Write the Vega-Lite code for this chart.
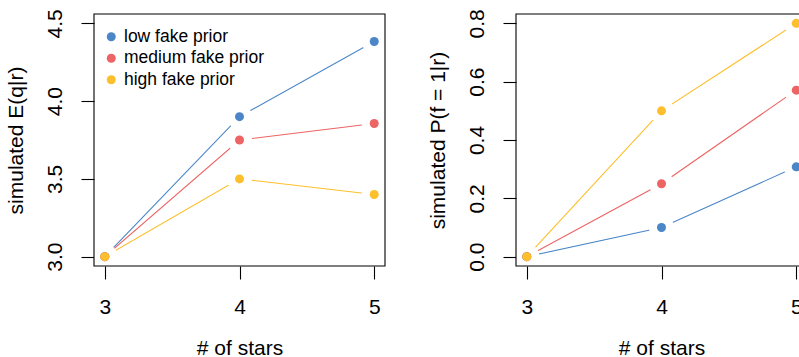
{
  "$schema": "https://vega.github.io/schema/vega-lite/v6.json",
  "padding": {"left": 5, "top": 8, "right": 0, "bottom": 0},
  "background": "white",
  "spacing": 131,
  "bounds": "flush",
  "datasets": {
    "eq": [
      {"stars": 3, "prior": "low fake prior", "value": 3.0},
      {"stars": 4, "prior": "low fake prior", "value": 3.9},
      {"stars": 5, "prior": "low fake prior", "value": 4.383},
      {"stars": 3, "prior": "medium fake prior", "value": 3.0},
      {"stars": 4, "prior": "medium fake prior", "value": 3.75},
      {"stars": 5, "prior": "medium fake prior", "value": 3.856},
      {"stars": 3, "prior": "high fake prior", "value": 3.0},
      {"stars": 4, "prior": "high fake prior", "value": 3.5},
      {"stars": 5, "prior": "high fake prior", "value": 3.4}
    ],
    "pf": [
      {"stars": 3, "prior": "low fake prior", "value": 0.0},
      {"stars": 4, "prior": "low fake prior", "value": 0.1},
      {"stars": 5, "prior": "low fake prior", "value": 0.308},
      {"stars": 3, "prior": "medium fake prior", "value": 0.0},
      {"stars": 4, "prior": "medium fake prior", "value": 0.25},
      {"stars": 5, "prior": "medium fake prior", "value": 0.571},
      {"stars": 3, "prior": "high fake prior", "value": 0.0},
      {"stars": 4, "prior": "high fake prior", "value": 0.5},
      {"stars": 5, "prior": "high fake prior", "value": 0.8}
    ],
    "box1": [{"x1": 2.92, "x2": 5.08, "y1": 2.94, "y2": 4.56}],
    "box2": [{"x1": 2.92, "x2": 5.08, "y1": -0.032, "y2": 0.832}]
  },
  "hconcat": [
    {
      "width": 291,
      "height": 252,
      "layer": [
        {
          "data": {"name": "eq"},
          "mark": {"type": "line", "strokeWidth": 1.1},
          "encoding": {
            "x": {"field": "stars", "type": "quantitative", "scale": {"domain": [2.92, 5.08], "nice": false, "zero": false},
                  "axis": {"values": [3, 4, 5], "format": "d", "title": "# of stars", "titleX": 145.5, "titleY": 88}},
            "y": {"field": "value", "type": "quantitative", "scale": {"domain": [2.94, 4.56], "nice": false, "zero": false},
                  "axis": {"values": [3.0, 3.5, 4.0, 4.5], "format": ".1f", "title": "simulated E(q|r)", "titleX": -72, "titleY": 126}},
            "stroke": {"field": "prior", "type": "nominal",
                      "scale": {"domain": ["low fake prior", "medium fake prior", "high fake prior"], "range": ["#4A86C8", "#EE6363", "#FDBF2B"]}},
            "order": {"field": "stars"}
          }
        },
        {
          "data": {"name": "eq"},
          "mark": {"type": "point", "shape": "circle", "filled": true, "size": 625, "color": "white", "opacity": 1, "strokeWidth": 0, "clip": true},
          "encoding": {
            "x": {"field": "stars", "type": "quantitative"},
            "y": {"field": "value", "type": "quantitative"}
          }
        },
        {
          "data": {"name": "eq"},
          "mark": {"type": "point", "shape": "circle", "filled": true, "size": 81, "opacity": 1, "strokeWidth": 0},
          "encoding": {
            "x": {"field": "stars", "type": "quantitative"},
            "y": {"field": "value", "type": "quantitative"},
            "color": {"field": "prior", "type": "nominal",
                      "scale": {"domain": ["low fake prior", "medium fake prior", "high fake prior"], "range": ["#4A86C8", "#EE6363", "#FDBF2B"]}}
          }
        },
        {
          "data": {"name": "box1"},
          "mark": {"type": "rect", "fill": "transparent", "stroke": "black", "strokeWidth": 1.1},
          "encoding": {
            "x": {"field": "x1", "type": "quantitative"},
            "x2": {"field": "x2"},
            "y": {"field": "y1", "type": "quantitative"},
            "y2": {"field": "y2"}
          }
        }
      ]
    },
    {
      "width": 291,
      "height": 252,
      "layer": [
        {
          "data": {"name": "pf"},
          "mark": {"type": "line", "strokeWidth": 1.1},
          "encoding": {
            "x": {"field": "stars", "type": "quantitative", "scale": {"domain": [2.92, 5.08], "nice": false, "zero": false},
                  "axis": {"values": [3, 4, 5], "format": "d", "title": "# of stars", "titleX": 145.5, "titleY": 88}},
            "y": {"field": "value", "type": "quantitative", "scale": {"domain": [-0.032, 0.832], "nice": false, "zero": false},
                  "axis": {"values": [0, 0.2, 0.4, 0.6, 0.8], "format": ".1f", "title": "simulated P(f = 1|r)", "titleX": -72, "titleY": 126}},
            "stroke": {"field": "prior", "type": "nominal",
                      "scale": {"domain": ["low fake prior", "medium fake prior", "high fake prior"], "range": ["#4A86C8", "#EE6363", "#FDBF2B"]}},
            "order": {"field": "stars"}
          }
        },
        {
          "data": {"name": "pf"},
          "mark": {"type": "point", "shape": "circle", "filled": true, "size": 625, "color": "white", "opacity": 1, "strokeWidth": 0, "clip": true},
          "encoding": {
            "x": {"field": "stars", "type": "quantitative"},
            "y": {"field": "value", "type": "quantitative"}
          }
        },
        {
          "data": {"name": "pf"},
          "mark": {"type": "point", "shape": "circle", "filled": true, "size": 81, "opacity": 1, "strokeWidth": 0},
          "encoding": {
            "x": {"field": "stars", "type": "quantitative"},
            "y": {"field": "value", "type": "quantitative"},
            "color": {"field": "prior", "type": "nominal",
                      "scale": {"domain": ["low fake prior", "medium fake prior", "high fake prior"], "range": ["#4A86C8", "#EE6363", "#FDBF2B"]}}
          }
        },
        {
          "data": {"name": "box2"},
          "mark": {"type": "rect", "fill": "transparent", "stroke": "black", "strokeWidth": 1.1},
          "encoding": {
            "x": {"field": "x1", "type": "quantitative"},
            "x2": {"field": "x2"},
            "y": {"field": "y1", "type": "quantitative"},
            "y2": {"field": "y2"}
          }
        }
      ]
    }
  ],
  "config": {
    "view": {"stroke": null},
    "font": "Liberation Sans",
    "legend": {
      "title": null, "orient": "none", "legendX": 8.5, "legendY": 14, "padding": 0,
      "symbolType": "circle", "symbolSize": 81, "symbolStrokeWidth": 0, "symbolOpacity": 1,
      "labelFont": "Liberation Sans", "labelFontSize": 17.5, "labelColor": "black", "labelOffset": 4, "rowPadding": 2.5
    },
    "axis": {
      "domain": false, "grid": false, "ticks": true, "tickColor": "black", "tickSize": 13, "tickWidth": 1.1,
      "labelFont": "Liberation Sans", "labelFontSize": 21, "labelColor": "black", "labelFlush": false, "labelOverlap": false,
      "titleFont": "Liberation Sans", "titleFontSize": 21, "titleFontWeight": "normal", "titleColor": "black"
    },
    "axisX": {"labelAlign": "center", "labelBaseline": "alphabetic", "labelPadding": 34, "titleBaseline": "alphabetic", "titleAlign": "center", "titleAngle": 0},
    "axisY": {"labelAngle": 270, "labelAlign": "center", "labelBaseline": "alphabetic", "labelPadding": 20, "titleAngle": 270, "titleAlign": "center", "titleBaseline": "alphabetic"}
  }
}
